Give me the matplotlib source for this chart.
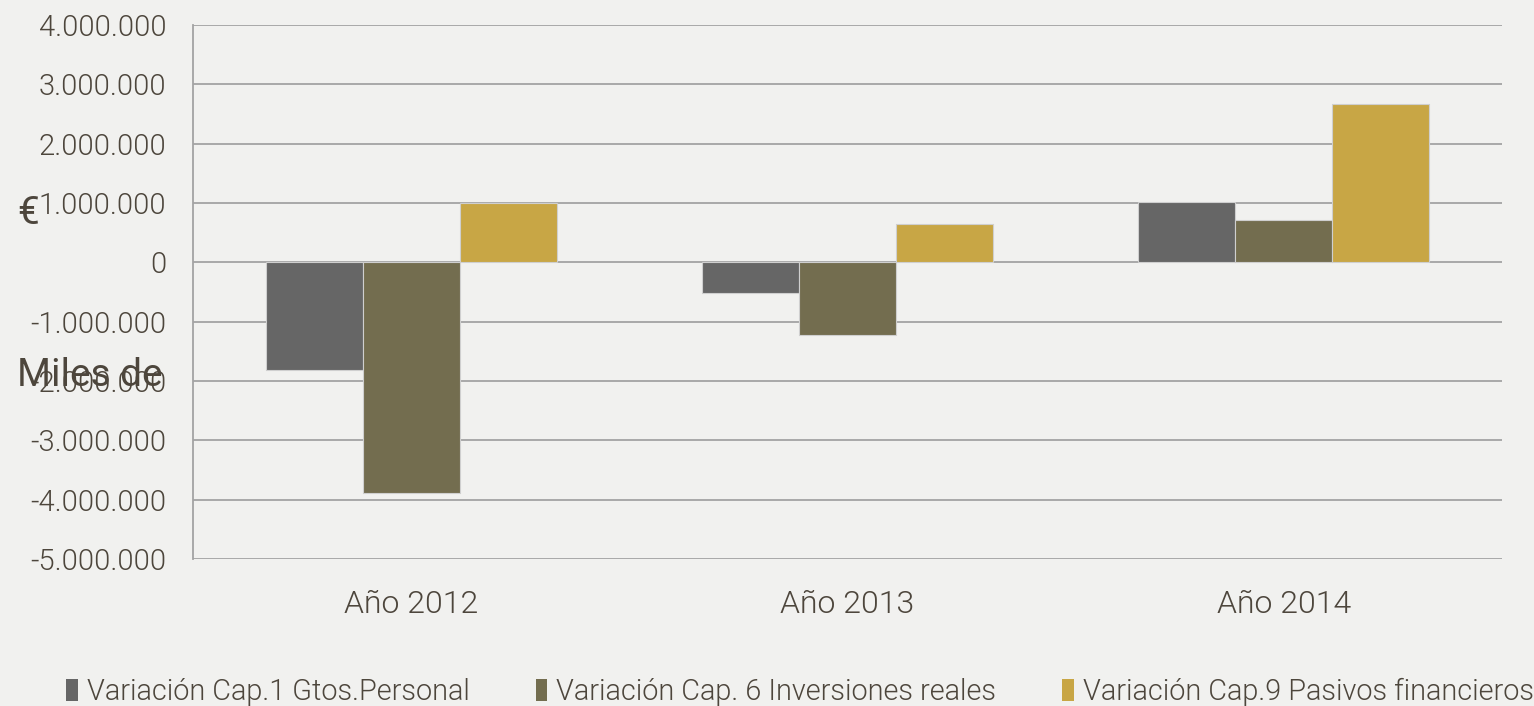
import matplotlib
matplotlib.use("Agg")
import matplotlib.pyplot as plt
from matplotlib.patches import Patch
import numpy as np

categories = ["Año 2012", "Año 2013", "Año 2014"]
series_names = ["Variación Cap.1 Gtos.Personal",
                "Variación Cap. 6 Inversiones reales",
                "Variación Cap.9 Pasivos financieros"]
cap1 = [-1820000, -510000, 1020000]
cap6 = [-3890000, -1230000, 710000]
cap9 = [1000000, 640000, 2670000]
colors = ["#666666", "#736d4f", "#c8a645"]
yticks = [4000000, 3000000, 2000000, 1000000, 0, -1000000, -2000000,
          -3000000, -4000000, -5000000]
ytick_labels = ["4.000.000", "3.000.000", "2.000.000", "1.000.000", "0",
                "-1.000.000", "-2.000.000", "-3.000.000", "-4.000.000",
                "-5.000.000"]

bg = "#f1f1ef"
txt = "#4d463c"
plt.rcParams['font.family'] = ['Roboto', 'DejaVu Sans']

fig = plt.figure(figsize=(15.34, 7.06), dpi=100, facecolor=bg)
ax = fig.add_axes([193/1534, 1-559/706, (1502-193)/1534, (559-25)/706])
ax.set_facecolor(bg)

x = np.arange(len(categories))
w = 1/4.5
for i, (vals, c) in enumerate(zip([cap1, cap6, cap9], colors)):
    ax.bar(x + (i-1)*w, vals, width=w, color=c, edgecolor="#cfcfcf",
           linewidth=0.8, zorder=3)

ax.set_xlim(-0.5, 2.5)
ax.set_ylim(-5000000, 4000000)
ax.set_yticks(yticks)
ax.set_yticklabels(ytick_labels)
ax.set_xticks(x)
ax.set_xticklabels(categories)
ax.grid(axis='y', color="#a3a3a3", linewidth=1.3, zorder=1)
ax.set_axisbelow(True)
for s in ["top", "right", "bottom"]:
    ax.spines[s].set_visible(False)
ax.spines["left"].set_color("#a3a3a3")
ax.spines["left"].set_linewidth(1.3)
ax.tick_params(axis='both', length=0, colors=txt)
ax.tick_params(axis='y', pad=19, labelsize=21)
ax.tick_params(axis='x', pad=22, labelsize=23)
for t in ax.get_yticklabels() + ax.get_xticklabels():
    t.set_fontweight(300)

fig.text(17/1534, 1-213/706, "€", fontsize=28, color=txt, va='center', ha='left')
fig.text(17/1534, 1-375/706, "Miles de", fontsize=28, color=txt, va='center', ha='left')

handles = [Patch(facecolor=c, edgecolor='none') for c in colors]
leg = fig.legend(handles, series_names, loc='center', bbox_to_anchor=(800/1534, 1-692/706),
                 ncol=3, frameon=False, fontsize=20.8, handlelength=0.4, handleheight=0.75,
                 handletextpad=0.3, columnspacing=2.3, labelcolor=txt,
                 borderpad=0, borderaxespad=0)
for t in leg.get_texts():
    t.set_fontweight(300)

fig.savefig("out.png", dpi=100, facecolor=bg)
